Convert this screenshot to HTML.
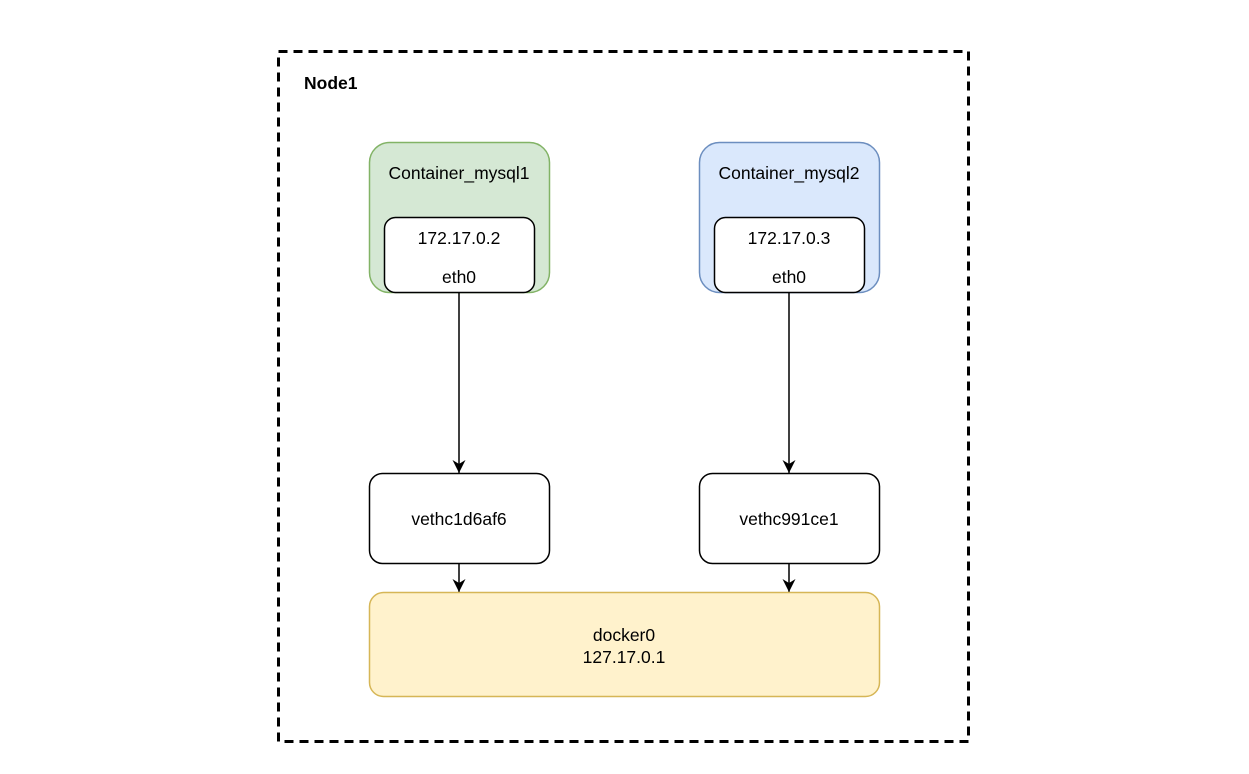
<!DOCTYPE html>
<html><head><meta charset="utf-8"><style>body{margin:0;background:#fff}svg{display:block}text{font-family:"Liberation Sans",Arial,sans-serif;font-size:17.5px;fill:#000}</style></head><body>
<svg width="1249" height="774" viewBox="0 0 1249 774" xmlns="http://www.w3.org/2000/svg">
<defs><marker id="a" markerWidth="14" markerHeight="14" refX="13" refY="6.5" orient="auto" markerUnits="userSpaceOnUse"><path d="M0,0 L13,6.5 L0,13 L4,6.5 Z" fill="#000"/></marker></defs>
<rect x="278.5" y="51.5" width="690" height="690" fill="none" stroke="#000" stroke-width="3" stroke-dasharray="9,6"/>
<text x="304" y="89" style="font-weight:bold">Node1</text>
<rect x="369.5" y="142.5" width="180" height="150" rx="20" fill="#d5e8d4" stroke="#82b366" stroke-width="1.5"/>
<text x="459" y="179" text-anchor="middle">Container_mysql1</text>
<rect x="384.5" y="217.5" width="150" height="75" rx="11" fill="#fff" stroke="#000" stroke-width="1.5"/>
<text x="459" y="244" text-anchor="middle">172.17.0.2</text>
<text x="459" y="283" text-anchor="middle">eth0</text>
<rect x="699.5" y="142.5" width="180" height="150" rx="20" fill="#dae8fc" stroke="#6c8ebf" stroke-width="1.5"/>
<text x="789" y="179" text-anchor="middle">Container_mysql2</text>
<rect x="714.5" y="217.5" width="150" height="75" rx="11" fill="#fff" stroke="#000" stroke-width="1.5"/>
<text x="789" y="244" text-anchor="middle">172.17.0.3</text>
<text x="789" y="283" text-anchor="middle">eth0</text>
<line x1="459" y1="293" x2="459" y2="473" stroke="#000" stroke-width="1.5" marker-end="url(#a)"/>
<line x1="789" y1="293" x2="789" y2="473" stroke="#000" stroke-width="1.5" marker-end="url(#a)"/>
<rect x="369.5" y="473.5" width="180" height="90" rx="13" fill="#fff" stroke="#000" stroke-width="1.5"/>
<text x="459" y="525" text-anchor="middle">vethc1d6af6</text>
<rect x="699.5" y="473.5" width="180" height="90" rx="13" fill="#fff" stroke="#000" stroke-width="1.5"/>
<text x="789" y="525" text-anchor="middle">vethc991ce1</text>
<line x1="459" y1="564" x2="459" y2="592" stroke="#000" stroke-width="1.5" marker-end="url(#a)"/>
<line x1="789" y1="564" x2="789" y2="592" stroke="#000" stroke-width="1.5" marker-end="url(#a)"/>
<rect x="369.5" y="592.5" width="510" height="104" rx="14" fill="#fff2cc" stroke="#d6b656" stroke-width="1.5"/>
<text x="624" y="641" text-anchor="middle">docker0</text>
<text x="624" y="663" text-anchor="middle">127.17.0.1</text>
</svg>
</body></html>
